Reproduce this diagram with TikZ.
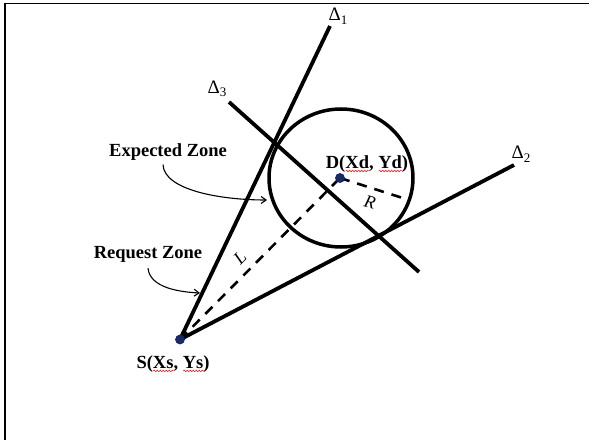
\documentclass[tikz,border=0pt]{standalone}
\usepackage{fontspec}
\setmainfont{Liberation Serif}
\usetikzlibrary{arrows.meta,decorations.pathmorphing,shapes.geometric}
\definecolor{dotblue}{RGB}{25,45,85}
\definecolor{spellred}{RGB}{220,40,40}
\newcommand{\dsub}[1]{\raisebox{-3.5pt}{\fontsize{13}{13}\selectfont #1}}
\tikzset{
  thickline/.style={line width=3.8pt, line cap=butt},
  dashline/.style={line width=2.6pt, dash pattern=on 10pt off 8pt},
  lbl/.style={font=\bfseries\fontsize{18.5}{18.5}\selectfont, inner sep=0pt},
  dlbl/.style={font=\fontsize{19}{19}\selectfont, inner sep=0pt},
  ital/.style={font=\itshape\fontsize{18}{18}\selectfont, inner sep=0pt},
  pointer/.style={line width=1.1pt, -{Straight Barb[length=5pt,width=7pt]}},
  dotmark/.style={circle, fill=dotblue, draw=dotblue!60!blue, line width=0.7pt, inner sep=0pt, minimum size=9pt},
  wavy/.style={spellred, line width=0.6pt, decorate, decoration={snake, amplitude=0.8pt, segment length=3pt}},
  frameline/.style={line width=1.6pt}
}
\begin{document}
\begin{tikzpicture}[x=1pt,y=1pt]
\useasboundingbox (0,0) rectangle (589,440);
% frame
\coordinate (f1) at (5,0);
\coordinate (f2) at (5,436.5);
\coordinate (f3) at (589,436.5);
\draw[frameline] (f1) -- (f2) -- (f3);
% key points
\coordinate (S) at (180,100.5);
\coordinate (D) at (340,262);
\coordinate (C) at (341,262);
\coordinate (T1) at (330,414);
\coordinate (T2) at (514,275);
\coordinate (A3) at (229,338);
\coordinate (B3) at (419,168);
\coordinate (Redge) at (409,240);
% circle
\node[ellipse, draw, line width=3.5pt, minimum width=144pt, minimum height=138pt, inner sep=0pt] (circ) at (C) {};
% lines
\draw[thickline] (S) -- (T1);
\draw[thickline] (S) -- (T2);
\draw[thickline] (A3) -- (B3);
% dashed
\draw[dashline] (S) -- (D);
\draw[dashline] (D) -- (Redge);
% dots
\node[dotmark] (Sdot) at (S) {};
\node[dotmark] (Ddot) at (D) {};
% delta labels
\node[dlbl] (d1) at (338,424) {Δ\dsub{1}};
\node[dlbl] (d3) at (217,351) {Δ\dsub{3}};
\node[dlbl] (d2) at (521,286) {Δ\dsub{2}};
% R and L
\node[ital, rotate=-15] (Rl) at (370,238) {R};
\node[ital, rotate=45] (Ll) at (240,182) {L};
% labels
\node[lbl] (Dlab) at (367,276) {D(Xd, Yd)};
\node[lbl] (Slab) at (173,76) {S(Xs, Ys)};
\node[lbl] (EZ) at (168,288) {Expected Zone};
\node[lbl] (RZ) at (148,186) {Request Zone};
% spell-check underlines
\draw[wavy] ([xshift=20pt,yshift=-2.5pt]Dlab.base west) -- ++(23pt,0);
\draw[wavy] ([xshift=53pt,yshift=-2.5pt]Dlab.base west) -- ++(23pt,0);
\draw[wavy] ([xshift=17pt,yshift=-2.5pt]Slab.base west) -- ++(20pt,0);
\draw[wavy] ([xshift=47pt,yshift=-2.5pt]Slab.base west) -- ++(21pt,0);
% pointer arrows
\coordinate (EZtip) at (267,240);
\coordinate (RZtip) at (200,147);
\draw[pointer] ([xshift=-5pt,yshift=-4pt]EZ.south) .. controls (164,250) and (220,240) .. (EZtip);
\draw[pointer] ([xshift=0pt,yshift=-6pt]RZ.south) .. controls (150,152) and (180,148) .. (RZtip);
\end{tikzpicture}
\end{document}
